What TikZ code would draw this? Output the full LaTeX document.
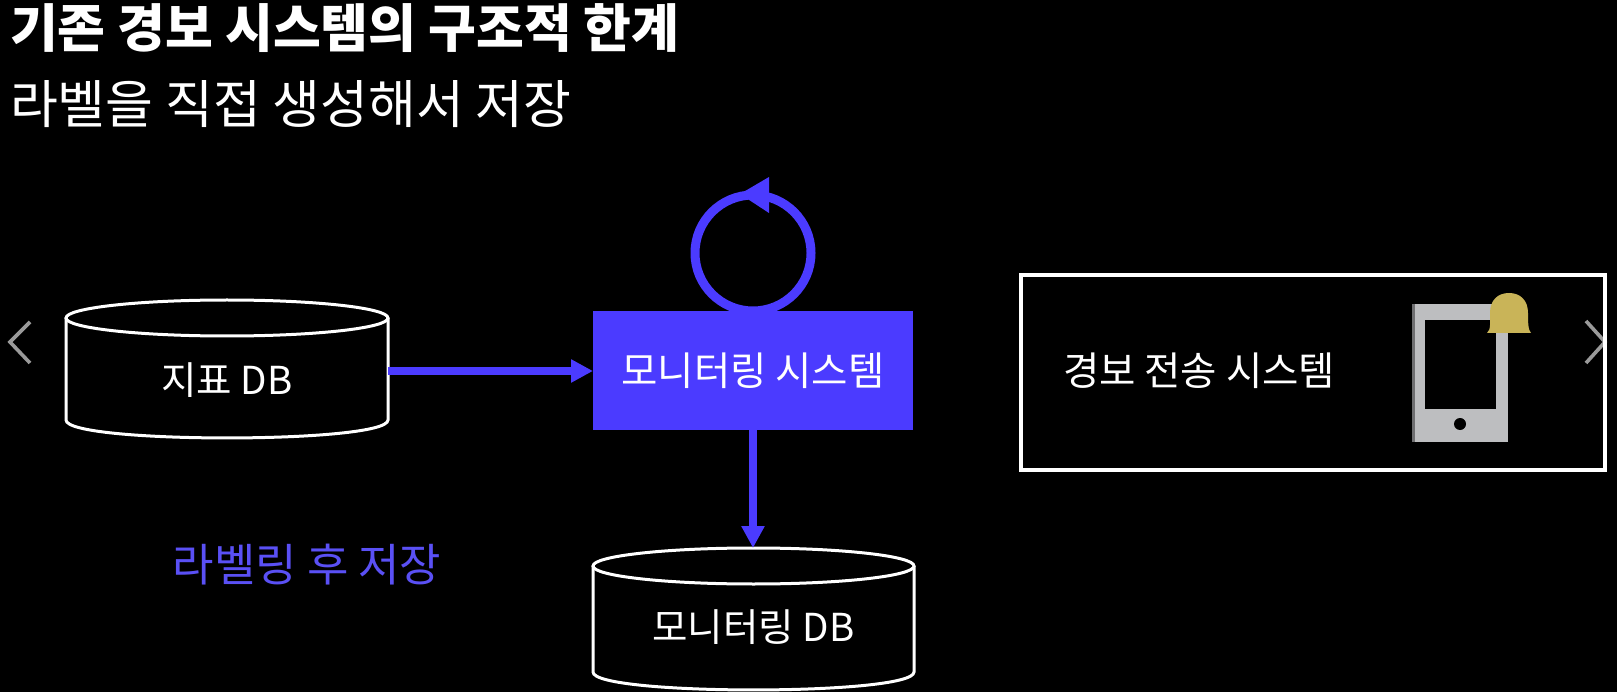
\documentclass[tikz,border=0pt]{standalone}
\usepackage{fontspec}
\setmainfont{Noto Sans CJK KR}
\usetikzlibrary{arrows.meta}
\definecolor{accent}{HTML}{4B3BFF}
\definecolor{labelblue}{HTML}{5A50F5}
\definecolor{phonegray}{HTML}{BDBEC0}
\definecolor{phonedark}{HTML}{6E6E70}
\definecolor{bellgold}{HTML}{C9B458}
\definecolor{chevgray}{HTML}{9A9A9A}
\tikzset{
  every node/.style={inner sep=0pt,outer sep=0pt,text=white},
  cyl/.style={draw=white,line width=3pt,fill=black},
  flow/.style={draw=accent,line width=7.5pt,-{Triangle[length=22pt,width=22pt]}},
  chev/.style={draw=chevgray,line width=3.6pt},
  body/.style={font=\fontsize{39.5}{46}\selectfont},
  dbtext/.style={font=\fontsize{38.5}{46}\selectfont},
}
\newcommand{\cylshape}[5]{% x1 x2 topY(center) sideBottomY ry
  \draw[cyl] (#1,#3) -- (#1,#4) .. controls (#1,{#4+#5*1.33}) and (#2,{#4+#5*1.33}) .. (#2,#4) -- (#2,#3);
  \draw[cyl] ({(#1+#2)/2},#3) ellipse [x radius={(#2-#1)/2},y radius=#5];
}
\begin{document}
\begin{tikzpicture}[x=1pt,y=-1pt]
\useasboundingbox (0,0) rectangle (1617,692);
\fill[black] (0,0) rectangle (1617,692);
% titles
\node[anchor=west,font=\fontsize{52}{60}\bfseries\selectfont] (title) at (10,28) {기존 경보 시스템의 구조적 한계};
\node[anchor=west,font=\fontsize{52}{60}\selectfont] (sub) at (10,104) {라벨을 직접 생성해서 저장};
% chevrons
\draw[chev] (30,322) -- (10,342) -- (30,363);
\draw[chev] (1586,321) -- (1605,342) -- (1586,363);
% cylinders
\cylshape{66}{388}{318}{420}{18}
\node[dbtext,minimum width=322pt,minimum height=100pt] (metricdb) at (227,380) {지표 DB};
\cylshape{593}{914}{566}{672}{18}
\node[dbtext,minimum width=321pt,minimum height=100pt] (mondb) at (753.5,627) {모니터링 DB};
\coordinate (mondbtop) at (753.5,548);
% monitoring box
\node[fill=accent,minimum width=320pt,minimum height=119pt,body] (mon) at (753,370.5) {모니터링 시스템};
% self loop
\node[circle,draw=accent,line width=9pt,minimum size=116pt] (loop) at (753,253) {};
\fill[accent] (740,194) -- (769,177) -- (769,213) -- cycle;
% arrows
\draw[flow] (metricdb.east |- 0,371) -- (mon.west |- 0,371);
\draw[flow] (mon.south) -- (mon.south |- mondbtop);
% label
\node[font=\fontsize{45}{52}\selectfont,text=labelblue] (lab) at (307,565) {라벨링 후 저장};
% alert box
\node[draw=white,line width=3.6pt,minimum width=584pt,minimum height=195pt] (alert) at (1313,372.5) {};
\node[body,anchor=west] (alerttext) at (1063,371) {경보 전송 시스템};
% phone
\fill[phonegray] (1412,304) rectangle (1508,442);
\fill[phonedark] (1412,304) rectangle (1415,442);
\fill[black] (1425,320) rectangle (1496,409);
\fill[black] (1460,424) circle (6);
% bell
\fill[bellgold] (1487,333) .. controls (1491,330) and (1490,322) .. (1490,313)
  .. controls (1490,300) and (1498,293) .. (1509,293)
  .. controls (1520,293) and (1528,300) .. (1528,313)
  .. controls (1528,322) and (1528,330) .. (1531,333) -- cycle;
\fill[bellgold] (1501,333) arc[start angle=180,end angle=360,radius=8] -- cycle;
\end{tikzpicture}
\end{document}
